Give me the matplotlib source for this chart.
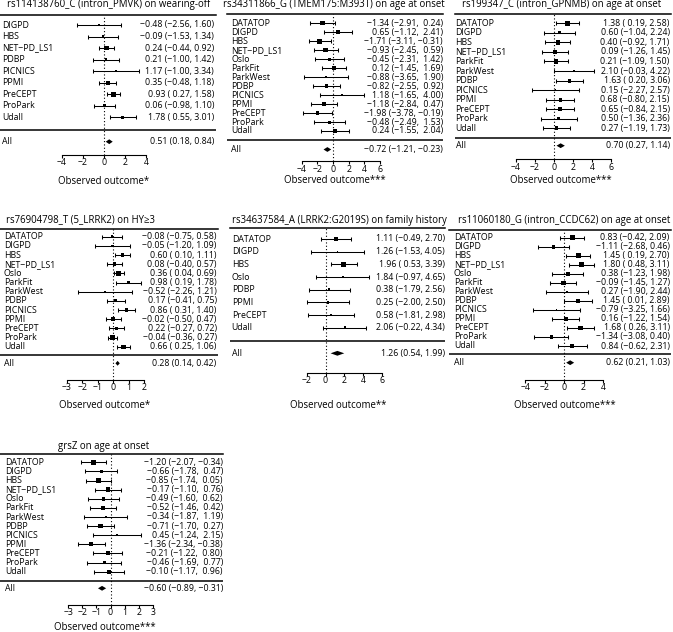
import numpy as np
import matplotlib.pyplot as plt

plt.rcParams['font.family'] = ['Open Sans', 'DejaVu Sans']

W, H = 673, 632
MINUS = '\u2212'

# rs114138760_C
p1_title = 'rs114138760_C (intron_PMVK) on wearing-off'
p1_names = ['DIGPD', 'HBS', 'NET\u2212PD_LS1', 'PDBP', 'PICNICS', 'PPMI', 'PreCEPT', 'ProPark', 'Udall']
p1_est = [-0.48, -0.09, 0.24, 0.21, 1.17, 0.35, 0.93, 0.06, 1.78]
p1_lo = [-2.56, -1.53, -0.44, -1.00, -1.00, -0.48, 0.27, -0.98, 0.55]
p1_hi = [1.60, 1.34, 0.92, 1.42, 3.34, 1.18, 1.58, 1.10, 3.01]
p1_all = [0.51, 0.18, 0.84]
p1_stars = '*'
p1_ticks = [-4, -2, 0, 2, 4]

# rs34311866_G
p2_title = 'rs34311866_G (TMEM175:M393T) on age at onset'
p2_names = ['DATATOP', 'DIGPD', 'HBS', 'NET\u2212PD_LS1', 'Oslo', 'ParkFit', 'ParkWest', 'PDBP',
            'PICNICS', 'PPMI', 'PreCEPT', 'ProPark', 'Udall']
p2_est = [-1.34, 0.65, -1.71, -0.93, -0.45, 0.12, -0.88, -0.82, 1.18, -1.18, -1.98, -0.48, 0.24]
p2_lo = [-2.91, -1.12, -3.11, -2.45, -2.31, -1.45, -3.65, -2.55, -1.65, -2.84, -3.78, -2.49, -1.55]
p2_hi = [0.24, 2.41, -0.31, 0.59, 1.42, 1.69, 1.90, 0.92, 4.00, 0.47, -0.19, 1.53, 2.04]
p2_all = [-0.72, -1.21, -0.23]
p2_stars = '***'
p2_ticks = [-4, -2, 0, 2, 4, 6]

# rs199347_C
p3_title = 'rs199347_C (intron_GPNMB) on age at onset'
p3_names = ['DATATOP', 'DIGPD', 'HBS', 'NET\u2212PD_LS1', 'ParkFit', 'ParkWest', 'PDBP', 'PICNICS',
            'PPMI', 'PreCEPT', 'ProPark', 'Udall']
p3_est = [1.38, 0.60, 0.40, 0.09, 0.21, 2.10, 1.63, 0.15, 0.68, 0.65, 0.50, 0.27]
p3_lo = [0.19, -1.04, -0.92, -1.26, -1.09, -0.03, 0.20, -2.27, -0.80, -0.84, -1.36, -1.19]
p3_hi = [2.58, 2.24, 1.71, 1.45, 1.50, 4.22, 3.06, 2.57, 2.15, 2.15, 2.36, 1.73]
p3_all = [0.70, 0.27, 1.14]
p3_stars = '***'
p3_ticks = [-4, -2, 0, 2, 4, 6]

# rs76904798_T
p4_title = 'rs76904798_T (5_LRRK2) on HY\u22653'
p4_names = ['DATATOP', 'DIGPD', 'HBS', 'NET\u2212PD_LS1', 'Oslo', 'ParkFit', 'ParkWest', 'PDBP',
            'PICNICS', 'PPMI', 'PreCEPT', 'ProPark', 'Udall']
p4_est = [-0.08, -0.05, 0.60, 0.08, 0.36, 0.98, -0.52, 0.17, 0.86, -0.02, 0.22, -0.04, 0.66]
p4_lo = [-0.75, -1.20, 0.10, -0.40, 0.04, 0.19, -2.26, -0.41, 0.31, -0.50, -0.27, -0.36, 0.25]
p4_hi = [0.58, 1.09, 1.11, 0.57, 0.69, 1.78, 1.21, 0.75, 1.40, 0.47, 0.72, 0.27, 1.06]
p4_all = [0.28, 0.14, 0.42]
p4_stars = '*'
p4_ticks = [-3, -2, -1, 0, 1, 2]

# rs34637584_A
p5_title = 'rs34637584_A (LRRK2:G2019S) on family history'
p5_names = ['DATATOP', 'DIGPD', 'HBS', 'Oslo', 'PDBP', 'PPMI', 'PreCEPT', 'Udall']
p5_est = [1.11, 1.26, 1.96, 1.84, 0.38, 0.25, 0.58, 2.06]
p5_lo = [-0.49, -1.53, 0.53, -0.97, -1.79, -2.00, -1.81, -0.22]
p5_hi = [2.70, 4.05, 3.39, 4.65, 2.56, 2.50, 2.98, 4.34]
p5_all = [1.26, 0.54, 1.99]
p5_stars = '**'
p5_ticks = [-2, 0, 2, 4, 6]

# rs11060180_G
p6_title = 'rs11060180_G (intron_CCDC62) on age at onset'
p6_names = ['DATATOP', 'DIGPD', 'HBS', 'NET\u2212PD_LS1', 'Oslo', 'ParkFit', 'ParkWest', 'PDBP',
            'PICNICS', 'PPMI', 'PreCEPT', 'ProPark', 'Udall']
p6_est = [0.83, -1.11, 1.45, 1.80, 0.38, -0.09, 0.27, 1.45, -0.79, 0.16, 1.68, -1.34, 0.84]
p6_lo = [-0.42, -2.68, 0.19, 0.48, -1.23, -1.45, -1.90, 0.01, -3.25, -1.22, 0.26, -3.08, -0.62]
p6_hi = [2.09, 0.46, 2.70, 3.11, 1.98, 1.27, 2.44, 2.89, 1.66, 1.54, 3.11, 0.40, 2.31]
p6_all = [0.62, 0.21, 1.03]
p6_stars = '***'
p6_ticks = [-4, -2, 0, 2, 4]

# grsZ
p7_title = 'grsZ on age at onset'
p7_names = ['DATATOP', 'DIGPD', 'HBS', 'NET\u2212PD_LS1', 'Oslo', 'ParkFit', 'ParkWest', 'PDBP',
            'PICNICS', 'PPMI', 'PreCEPT', 'ProPark', 'Udall']
p7_est = [-1.20, -0.66, -0.85, -0.17, -0.49, -0.52, -0.34, -0.71, 0.45, -1.36, -0.21, -0.46, -0.10]
p7_lo = [-2.07, -1.78, -1.74, -1.10, -1.60, -1.46, -1.87, -1.70, -1.24, -2.34, -1.22, -1.69, -1.17]
p7_hi = [-0.34, 0.47, 0.05, 0.76, 0.62, 0.42, 1.19, 0.27, 2.15, -0.38, 0.80, 0.77, 0.96]
p7_all = [-0.60, -0.89, -0.31]
p7_stars = '***'
p7_ticks = [-3, -2, -1, 0, 1, 2, 3]

# pixel layout of each panel
layout = [
    dict(rule=(0, 216), lab=2.3, ann=214, tpx=(61.7, 146), top=14.7, rows=(25, 117.3),
         brule=130, all=141.7, axis=155, title=(109, 5), xlab=(104, 181)),
    dict(rule=(227, 443), lab=231, ann=443, tpx=(301.7, 380), top=14, rows=(23.3, 131),
         brule=140, all=149.5, axis=161.5, title=(333.5, 5), xlab=(335, 180.5)),
    dict(rule=(455, 671), lab=455.5, ann=669.7, tpx=(515.7, 611.3), top=14, rows=(23.3, 128.3),
         brule=138.3, all=145.7, axis=159.3, title=(562, 5), xlab=(561, 180.5)),
    dict(rule=(0, 218), lab=4, ann=216.7, tpx=(66.7, 144.3), top=229, rows=(236.7, 346.7),
         brule=355, all=363.3, axis=380, title=(80.7, 220), xlab=(104.7, 405)),
    dict(rule=(230, 445), lab=231.7, ann=445, tpx=(306.7, 382), top=228.3, rows=(239, 327.7),
         brule=340.7, all=353.3, axis=372.7, title=(339, 220), xlab=(338, 405)),
    dict(rule=(449, 671), lab=454, ann=669.7, tpx=(525.3, 603), top=230, rows=(237.7, 346),
         brule=354.3, all=362.7, axis=380, title=(564, 220), xlab=(564.7, 405)),
    dict(rule=(0, 223), lab=5, ann=223, tpx=(68.3, 152.7), top=454.3, rows=(462.3, 571.7),
         brule=581, all=588.3, axis=605, title=(103.3, 446.7), xlab=(105, 627.7)),
]

panels = [
    (p1_title, p1_names, p1_est, p1_lo, p1_hi, p1_all, p1_stars, p1_ticks),
    (p2_title, p2_names, p2_est, p2_lo, p2_hi, p2_all, p2_stars, p2_ticks),
    (p3_title, p3_names, p3_est, p3_lo, p3_hi, p3_all, p3_stars, p3_ticks),
    (p4_title, p4_names, p4_est, p4_lo, p4_hi, p4_all, p4_stars, p4_ticks),
    (p5_title, p5_names, p5_est, p5_lo, p5_hi, p5_all, p5_stars, p5_ticks),
    (p6_title, p6_names, p6_est, p6_lo, p6_hi, p6_all, p6_stars, p6_ticks),
    (p7_title, p7_names, p7_est, p7_lo, p7_hi, p7_all, p7_stars, p7_ticks),
]

FS = 6.3


def num(v, pad):
    s = f'{abs(v):.2f}'
    if v < 0:
        return MINUS + s
    return (' ' + s) if pad else s


def annot(est, lo, hi):
    pl = any(v < 0 for v in lo)
    ph = any(v < 0 for v in hi)
    return [f'{num(e, False)} ({num(l, pl)}, {num(h, ph)})' for e, l, h in zip(est, lo, hi)]


fig = plt.figure(figsize=(W / 100, H / 100), dpi=100)


def forest(g, title, names, est, lo, hi, summ, stars, ticks):
    est, lo, hi = np.array(est), np.array(lo), np.array(hi)
    k = len(names)
    l, r = g['rule']
    ax = fig.add_axes([l / W, 1 - g['axis'] / H, (r - l) / W, (g['axis'] - g['top']) / H])

    a, b = ticks[0], ticks[-1]
    pa, pb = g['tpx']
    sc = (pb - pa) / (b - a)
    ax.set_xlim(a - (pa - l) / sc, b + (r - pb) / sc)

    rt, rb = g['rows']
    s = (rb - rt) / (k - 1)

    def yy(py):
        return 1 - (py - rb) / s

    ax.set_ylim(yy(g['axis']), yy(g['top']))
    ys = np.arange(k, 0, -1)

    ax.axvline(0, color='black', ls=(0, (1, 2)), lw=0.8, zorder=1)
    ax.errorbar(est, ys, xerr=[est - lo, hi - est], fmt='none', ecolor='black',
                elinewidth=0.75, capsize=1.3, capthick=0.75, zorder=2)
    w = 1 / ((hi - lo) / 3.92)
    ps = (w - w.min()) / (w.max() - w.min())
    ms = 1.2 + 2.4 * ps
    ax.scatter(est, ys, s=ms ** 2, marker='s', color='black', lw=0, zorder=3)

    ya = yy(g['all'])
    h = 2.4 / s
    e0, l0, h0 = summ
    ax.fill([l0, e0, h0, e0], [ya, ya + h, ya, ya - h], color='black', lw=0, zorder=3)
    ax.axhline(yy(g['brule']), color='black', lw=1.1)

    tr = ax.get_yaxis_transform()
    xl = (g['lab'] - l) / (r - l)
    xr = (g['ann'] - l) / (r - l)
    for name, y, txt in zip(names, ys, annot(est, lo, hi)):
        ax.text(xl, y, name, transform=tr, ha='left', va='center', fontsize=FS)
        ax.text(xr, y, txt, transform=tr, ha='right', va='center', fontsize=FS)
    ax.text(xl, ya, 'All', transform=tr, ha='left', va='center', fontsize=FS)
    ax.text(xr, ya, annot([e0], [l0], [h0])[0], transform=tr, ha='right', va='center', fontsize=FS)

    for side in ['left', 'right']:
        ax.spines[side].set_visible(False)
    ax.spines['top'].set_linewidth(1.1)
    ax.spines['bottom'].set_linewidth(0.8)
    ax.spines['bottom'].set_bounds(a, b)
    ax.set_yticks([])
    ax.set_xticks(ticks)
    ax.tick_params(axis='x', direction='out', length=2.5, width=0.8, pad=0, labelsize=FS)
    ax.patch.set_visible(False)

    fig.text(g['title'][0] / W, 1 - g['title'][1] / H, title, ha='center', va='center', fontsize=6.9)
    fig.text(g['xlab'][0] / W, 1 - g['xlab'][1] / H, 'Observed outcome' + stars,
             ha='center', va='center', fontsize=6.9)


for g, p in zip(layout, panels):
    forest(g, *p)

fig.savefig('out.png', dpi=100, facecolor='white')
